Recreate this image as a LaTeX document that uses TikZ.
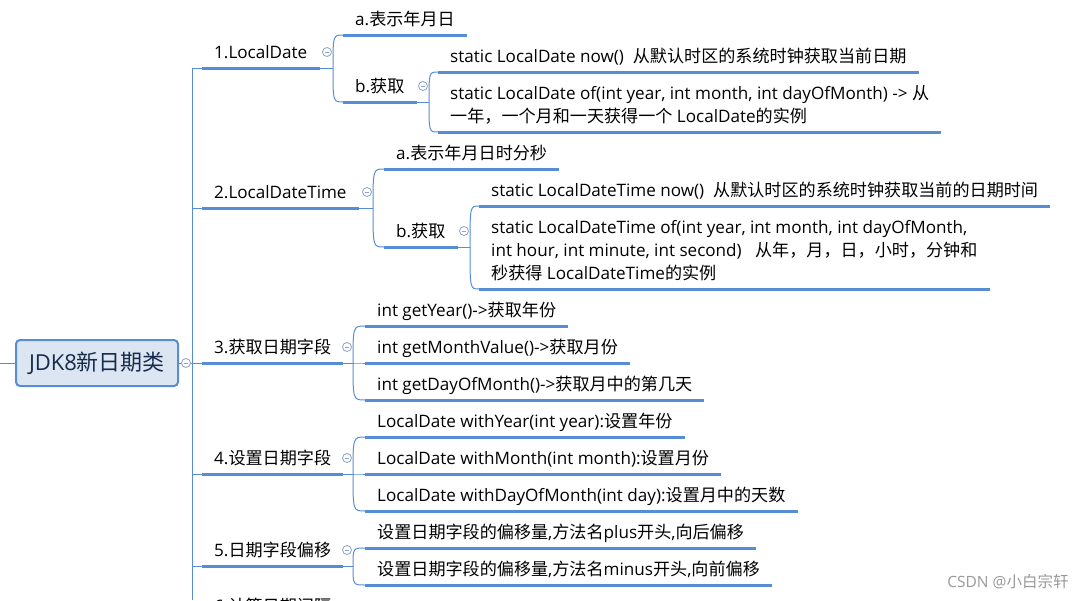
\documentclass[tikz,border=0pt]{standalone}
\usepackage{fontspec}
\setmainfont{Open Sans}
\newfontfamily\cjk{Noto Sans CJK SC}
\usetikzlibrary{calc}

% switch to the CJK font for Chinese characters
\XeTeXinterchartokenstate=1
\newcount\cjkn
\cjkn="3000 \loop \XeTeXcharclass\cjkn=8 \advance\cjkn by 1 \ifnum\cjkn<"3040 \repeat
\cjkn="4E00 \loop \XeTeXcharclass\cjkn=8 \advance\cjkn by 1 \ifnum\cjkn<"A000 \repeat
\cjkn="FF00 \loop \XeTeXcharclass\cjkn=8 \advance\cjkn by 1 \ifnum\cjkn<"FFF0 \repeat
\XeTeXinterchartoks 0 8 = {\cjk}
\XeTeXinterchartoks 4095 8 = {\cjk}
\XeTeXinterchartoks 8 0 = {\rmfamily}
\XeTeXinterchartoks 8 4095 = {\rmfamily}

\definecolor{lineblue}{RGB}{86,141,213}
\definecolor{rootfill}{RGB}{220,230,242}
\definecolor{rootink}{RGB}{23,43,77}
\definecolor{foldgray}{RGB}{140,163,196}

\newcommand\mltext[1]{\begin{tabular}[b]{@{}l@{}}#1\end{tabular}}

\begin{document}
\begin{tikzpicture}[
		x=1pt, y=-1pt,
		rootnode/.style={rectangle, rounded corners=4pt, draw=lineblue, fill=rootfill, line width=2pt, minimum width=162pt, minimum height=46pt, text=rootink, font=\fontsize{22}{26}\selectfont},
		itemnode/.style={anchor=south west, inner xsep=12pt, inner ysep=3.5pt, text depth=6pt, font=\fontsize{17.1}{23}\selectfont},
		marknode/.style={text=black!40, font=\fontsize{15.5}{18}\selectfont},
		uline/.style={lineblue, line width=3pt},
		thinline/.style={lineblue, line width=1pt},
		foldnode/.style={circle, draw=foldgray, fill=white, line width=0.8pt, minimum size=9pt, inner sep=0pt,
			path picture={\draw[foldgray, line width=0.8pt] ([xshift=-2.3pt]path picture bounding box.center) -- ([xshift=2.3pt]path picture bounding box.center);}},
		]
		\useasboundingbox (0,0) rectangle (1091,600);
		\clip (0,0) rectangle (1091,600);
		
		%Nodes
		\node[rootnode] (root) at (97,363) {JDK8新日期类};
		\node[itemnode] (n1) at (202,68)  {1.LocalDate};
		\node[itemnode] (n2) at (202,208) {2.LocalDateTime};
		\node[itemnode] (n3) at (202,363) {3.获取日期字段};
		\node[itemnode] (n4) at (202,474) {4.设置日期字段};
		\node[itemnode] (n5) at (202,566) {5.日期字段偏移};
		\node[itemnode] (n6) at (202,622) {6.计算日期间隔};
		
		\node[itemnode] (n1a)  at (343,35)  {a.表示年月日};
		\node[itemnode] (n1b)  at (343,102) {b.获取};
		\node[itemnode] (n1b1) at (438,72)  {static LocalDate now()~~从默认时区的系统时钟获取当前日期};
		\node[itemnode] (n1b2) at (438,132) {\mltext{static LocalDate of(int year, int month, int dayOfMonth) -> 从\\一年，一个月和一天获得一个 LocalDate的实例}};
		
		\node[itemnode] (n2a)  at (384,169) {a.表示年月日时分秒};
		\node[itemnode] (n2b)  at (384,247) {b.获取};
		\node[itemnode] (n2b1) at (479,206) {static LocalDateTime now()~~从默认时区的系统时钟获取当前的日期时间};
		\node[itemnode] (n2b2) at (479,289) {\mltext{static LocalDateTime of(int year, int month, int dayOfMonth,\\int hour, int minute, int second)~~~从年，月，日，小时，分钟和\\秒获得 LocalDateTime的实例}};
		
		\node[itemnode] (n3a) at (365,326) {int getYear()->获取年份};
		\node[itemnode] (n3b) at (365,363) {int getMonthValue()->获取月份};
		\node[itemnode] (n3c) at (365,400) {int getDayOfMonth()->获取月中的第几天};
		
		\node[itemnode] (n4a) at (365,437) {LocalDate withYear(int year):设置年份};
		\node[itemnode] (n4b) at (365,474) {LocalDate withMonth(int month):设置月份};
		\node[itemnode] (n4c) at (365,511) {LocalDate withDayOfMonth(int day):设置月中的天数};
		
		\node[itemnode] (n5a) at (365,548) {设置日期字段的偏移量,方法名plus开头,向后偏移};
		\node[itemnode] (n5b) at (365,585) {设置日期字段的偏移量,方法名minus开头,向前偏移};
		
		\node[marknode] (mark) at (1008,582) {CSDN @小白宗轩};
		
		%Points
		\coordinate (lstub) at (0,363);
		\coordinate (ttop) at (192,68);
		\coordinate (tbot) at (192,600);
		\coordinate (k1) at (333,68);
		\coordinate (k2) at (373,208);
		\coordinate (k3) at (353,363);
		\coordinate (k4) at (353,474);
		\coordinate (k5) at (353,566);
		\coordinate (k1b) at (429,102);
		\coordinate (k2b) at (470,247);
		
		%Lines
		\draw[thinline] (lstub) -- (root.west);
		\draw[thinline] (root.east) -- (ttop |- root.east);
		\draw[thinline] (ttop) -- (tbot);
		\foreach \p in {n1,n2,n3,n4,n5,n6}
			\draw[thinline] (ttop |- \p.south west) -- (\p.south west);
		\foreach \p in {n1,n2,n3,n4,n5,n6,n1a,n1b,n1b1,n1b2,n2a,n2b,n2b1,n2b2,n3a,n3b,n3c,n4a,n4b,n4c,n5a,n5b}
			\draw[uline] (\p.south west) -- (\p.south east);
		\foreach \p/\k in {n1/k1,n2/k2,n3/k3,n4/k4,n5/k5,n1b/k1b,n2b/k2b}
			\draw[thinline] (\p.south east) -- (\k);
		\foreach \k/\c in {k1/n1a,k1/n1b,k1b/n1b1,k1b/n1b2,k2/n2a,k2/n2b,k2b/n2b1,k2b/n2b2,k3/n3a,k3/n3b,k3/n3c,k4/n4a,k4/n4b,k4/n4c,k5/n5a,k5/n5b}
			\draw[thinline] (\k) .. controls (\k |- \c.south west) .. (\c.south west);
		
		%Fold marks
		\node[foldnode] (froot) at ($(root.east)+(7,0)$) {};
		\foreach \k in {k1,k2,k3,k4,k5,k1b,k2b}
			\node[foldnode] (f\k) at ($(\k)+(-6,-16)$) {};
\end{tikzpicture}
\end{document}
